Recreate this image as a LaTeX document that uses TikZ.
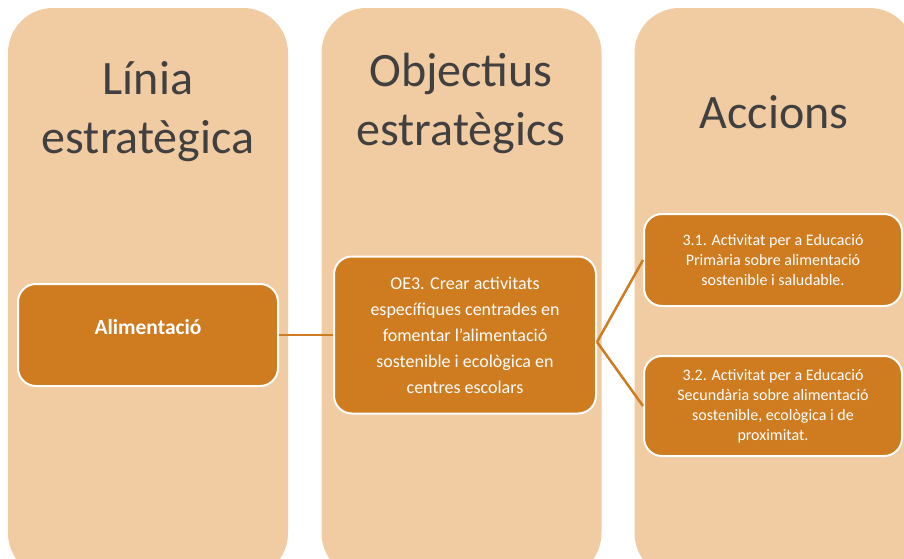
\documentclass[tikz,border=0pt]{standalone}
\usepackage{fontspec}
\setmainfont{Carlito}
\definecolor{colfill}{HTML}{F1CBA1}
\definecolor{boxfill}{HTML}{CF7B1F}
\definecolor{titlegray}{HTML}{404040}
\tikzset{
  column/.style={fill=colfill, rounded corners=45pt, minimum width=280pt, minimum height=570pt, inner sep=0pt},
  heading/.style={text=titlegray, align=center, font=\fontsize{48}{59}\selectfont, anchor=base},
  item/.style={draw=white, line width=2pt, fill=boxfill, rounded corners=18pt, text=white, align=center, inner sep=0pt},
  link/.style={draw=boxfill, line width=2.5pt}
}
\begin{document}
\begin{tikzpicture}[x=1pt,y=-1pt]
  \useasboundingbox (0,0) rectangle (904,558);
  \begin{scope}
    \clip (0,0) rectangle (904,558);
    \node[column] (col1) at (148,293) {};
    \node[column] (col2) at (461.5,293) {};
    \node[column] (col3) at (774.5,293) {};
  \end{scope}
  % headings (base = last line)
  \node[heading] (h1) at (148,153) {Línia\\estratègica};
  \node[heading] (h2) at (461,145) {Objectius\\estratègics};
  \node[heading] (h3) at (774,128) {Accions};
  % boxes
  \node[item, minimum width=260pt, minimum height=102pt, font=\fontsize{21.5}{26}\selectfont\bfseries, text height=14pt, text depth=16pt] (alim) at (148,335) {Alimentació};
  \node[item, minimum width=262pt, minimum height=157pt, font=\fontsize{18}{26}\selectfont] (oe3) at (465,335) {OE3. Crear activitats\\específiques centrades en\\fomentar l'alimentació\\sostenible i ecològica en\\centres escolars};
  \node[item, minimum width=258pt, minimum height=92pt, font=\fontsize{16}{20}\selectfont] (acc1) at (773,260) {3.1. Activitat per a Educació\\Primària sobre alimentació\\sostenible i saludable.};
  \node[item, minimum width=258pt, minimum height=100pt, font=\fontsize{16}{20}\selectfont] (acc2) at (773,406) {3.2. Activitat per a Educació\\Secundària sobre alimentació\\sostenible, ecològica i de\\proximitat.};
  \path[link]
    (alim.east) edge (oe3.west)
    ([yshift=-7pt]oe3.east) edge (acc1.west)
    ([yshift=-7pt]oe3.east) edge (acc2.west)
  ; %end path
\end{tikzpicture}
\end{document}
